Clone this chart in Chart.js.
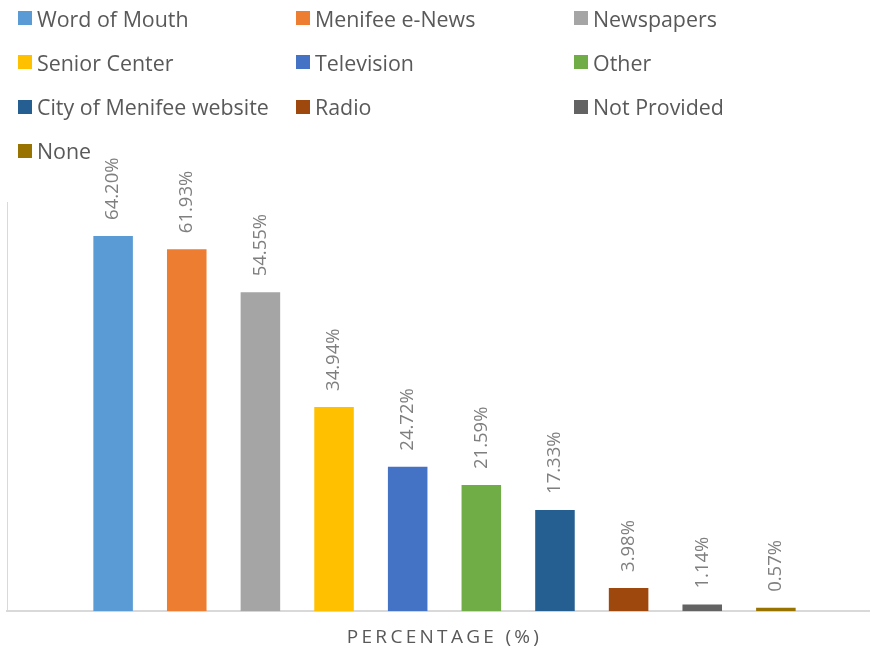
<!DOCTYPE html>
<html>
<head>
<meta charset="utf-8">
<script src="https://cdn.jsdelivr.net/npm/chart.js@4"></script>
<style>
  html, body { margin: 0; padding: 0; background: #fff; overflow: hidden; width: 870px; height: 651px; }
  #wrap { position: absolute; left: 0; top: 0; width: 882px; height: 651px; }
  #legend { position: absolute; left: 0; top: 0; width: 870px; height: 180px; z-index: 2; font-family: "Open Sans", sans-serif; }
  .item { position: absolute; display: flex; align-items: center; height: 28px; font-size: 21.4px; color: #595959; white-space: nowrap; }
  .box { width: 14px; height: 14px; margin-right: 5px; flex: none; }
</style>
</head>
<body>
<div id="legend"></div>
<div id="wrap"><canvas id="c" width="882" height="651"></canvas></div>
<script>
const categories = ['Word of Mouth', 'Menifee e-News', 'Newspapers', 'Senior Center', 'Television', 'Other', 'City of Menifee website', 'Radio', 'Not Provided', 'None'];
const values = [64.20, 61.93, 54.55, 34.94, 24.72, 21.59, 17.33, 3.98, 1.14, 0.57];
const colors = ['#5b9bd5', '#ed7d31', '#a5a5a5', '#ffc000', '#4472c4', '#70ad47', '#255e91', '#9e480e', '#636363', '#997300'];
const axisTitle = 'PERCENTAGE (%)';

// HTML legend in three columns
const legend = document.getElementById('legend');
categories.forEach((c, i) => {
  const col = i % 3, row = Math.floor(i / 3);
  const d = document.createElement('div');
  d.className = 'item';
  d.style.left = (18 + col * 278) + 'px';
  d.style.top = (4 + row * 44.3) + 'px';
  const b = document.createElement('span');
  b.className = 'box';
  b.style.background = colors[i];
  const t = document.createElement('span');
  t.textContent = c;
  d.appendChild(b); d.appendChild(t);
  legend.appendChild(d);
});

const spacingPlugin = {
  id: 'spacing',
  beforeDraw(chart) { chart.ctx.letterSpacing = '3.3px'; },
  beforeDatasetsDraw(chart) { chart.ctx.letterSpacing = '0px'; }
};

const labelPlugin = {
  id: 'valueLabels',
  afterDatasetsDraw(chart) {
    const ctx = chart.ctx;
    ctx.save();
    ctx.letterSpacing = '0px';
    ctx.font = '18.5px "Open Sans"';
    ctx.fillStyle = '#7f7f7f';
    ctx.textAlign = 'left';
    ctx.textBaseline = 'middle';
    chart.data.datasets.forEach((ds, i) => {
      const meta = chart.getDatasetMeta(i);
      meta.data.forEach((el, j) => {
        ctx.save();
        ctx.translate(el.x, el.y - 16);
        ctx.rotate(-Math.PI / 2);
        ctx.fillText(ds.data[j].toFixed(2) + '%', 0, 0);
        ctx.restore();
      });
    });
    ctx.restore();
  }
};

new Chart(document.getElementById('c'), {
  type: 'bar',
  data: {
    labels: [''],
    datasets: categories.map((c, i) => ({
      label: c,
      data: [values[i]],
      backgroundColor: colors[i],
      borderWidth: 0
    }))
  },
  options: {
    responsive: false,
    animation: false,
    devicePixelRatio: 1,
    categoryPercentage: 0.8416,
    barPercentage: 0.537,
    layout: { padding: { left: 7, top: 202, right: 0, bottom: 0 } },
    plugins: { legend: { display: false }, tooltip: { enabled: false } },
    scales: {
      x: {
        grid: { display: false, drawTicks: false },
        ticks: { display: false },
        border: { display: true, color: '#d9d9d9', width: 2 },
        title: {
          display: true,
          text: axisTitle,
          color: '#595959',
          font: { family: 'Open Sans', size: 19 },
          padding: { top: 15, bottom: 2 }
        }
      },
      y: {
        min: 0,
        max: 70,
        grid: { display: false, drawTicks: false },
        ticks: { display: false },
        border: { display: true, color: '#d9d9d9', width: 1 }
      }
    }
  },
  plugins: [spacingPlugin, labelPlugin]
});
</script>
</body>
</html>
